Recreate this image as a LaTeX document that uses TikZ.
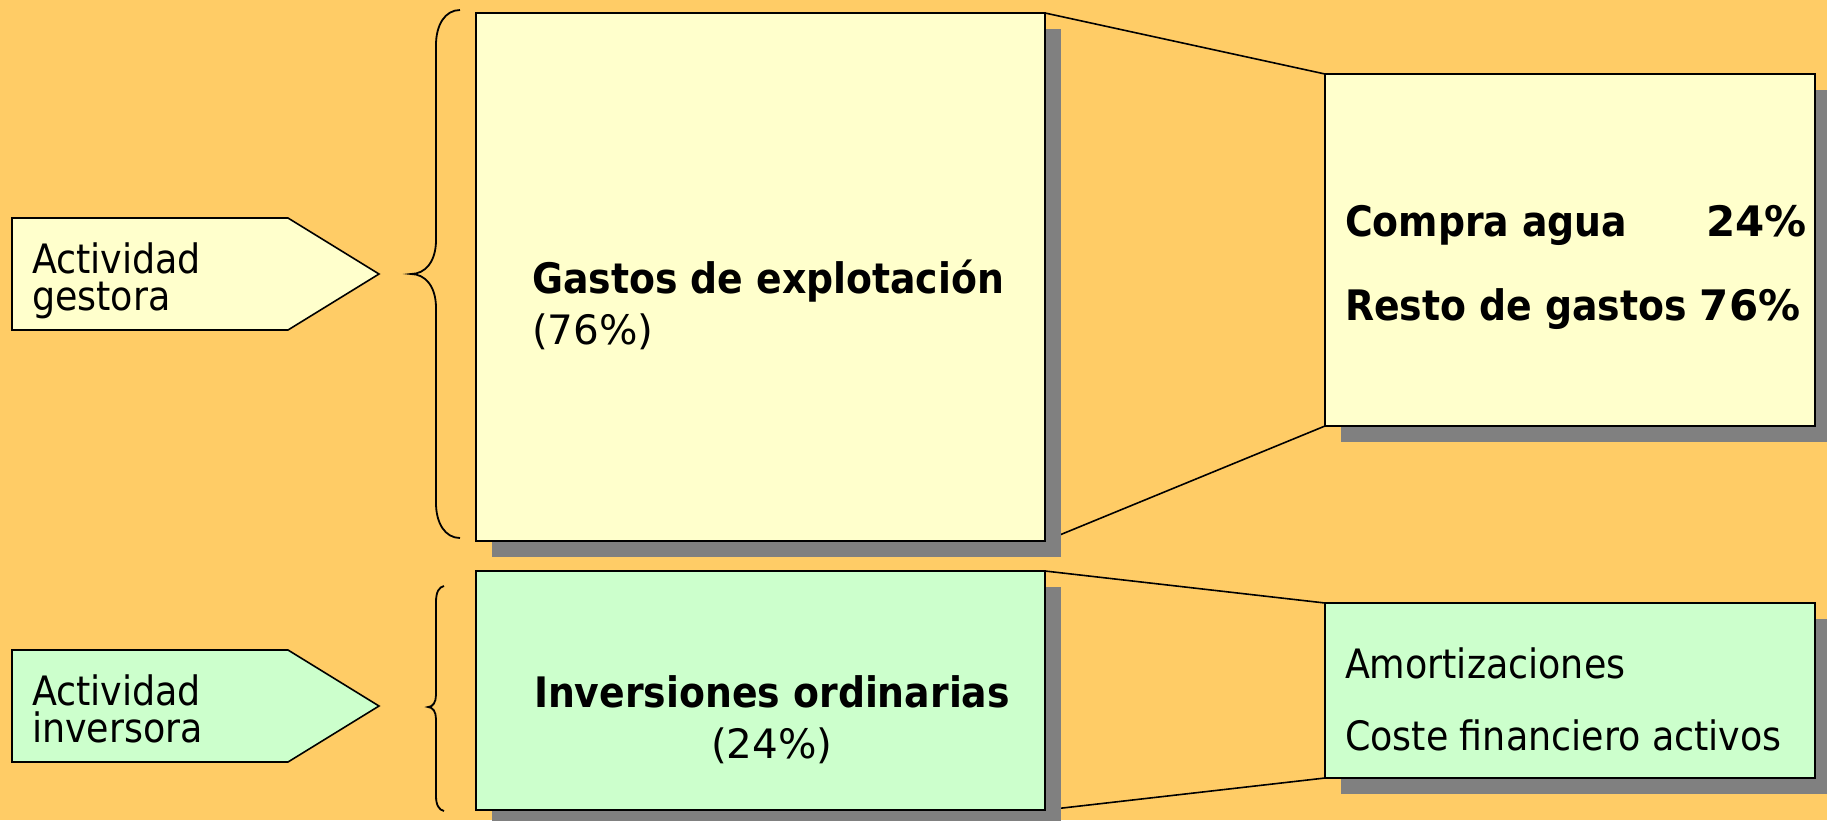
\documentclass[tikz,border=0pt]{standalone}
\usepackage{fontspec}
\setmainfont{DejaVu Sans Condensed}
\newfontfamily\numfont{DejaVu Sans}
\usetikzlibrary{shadows}
\definecolor{bgorange}{HTML}{FFCC66}
\definecolor{pyellow}{HTML}{FFFFCC}
\definecolor{pgreen}{HTML}{CCFFCC}
\definecolor{shgray}{HTML}{808080}
\pgfdeclarelayer{back}
\pgfdeclarelayer{bg}
\pgfsetlayers{back,bg,main}
\tikzset{
  boxbase/.style={draw=black, line width=1.6pt, inner sep=0pt, outer sep=0pt, anchor=north west,
    drop shadow={shadow xshift=16pt, shadow yshift=-16pt, fill=shgray, opacity=1}},
  ybox/.style={boxbase, fill=pyellow},
  gbox/.style={boxbase, fill=pgreen},
  tag/.style={draw=black, line width=1.6pt, line join=miter},
  brace/.style={draw=black, line width=1.8pt},
  link/.style={draw=black, line width=1.6pt},
  txt/.style={inner sep=0pt, outer sep=0pt, font=\fontsize{40.5}{44}\selectfont},
  btxt/.style={inner sep=0pt, outer sep=0pt, font=\fontsize{42}{46}\selectfont\bfseries},
}
\begin{document}
\begin{tikzpicture}[x=1pt,y=-1pt]
\begin{pgfonlayer}{back}
\fill[bgorange] (0,0) rectangle (1827,820);
\end{pgfonlayer}
\useasboundingbox (0,0) rectangle (1827,820);

% left tags
\draw[tag, fill=pyellow] (12,218) -- (288,218) -- (379,274) -- (288,330) -- (12,330) -- cycle;
\draw[tag, fill=pgreen] (12,650) -- (288,650) -- (379,706) -- (288,762) -- (12,762) -- cycle;
\node[txt, anchor=base west] (tg1) at (32,273) {Actividad};
\node[txt, anchor=base west] (tg2) at (32,310) {gestora};
\node[txt, anchor=base west] (ti1) at (32,705) {Actividad};
\node[txt, anchor=base west] (ti2) at (32,742) {inversora};

% braces
\draw[brace] (460,10) .. controls (445,10) and (436,25) .. (436,45) -- (436,240)
  .. controls (436,262) and (425,274) .. (411,274)
  .. controls (425,274) and (436,286) .. (436,308) -- (436,503)
  .. controls (436,523) and (445,538) .. (460,538);
\draw[brace] (444,586) .. controls (439,587) and (436,592) .. (436,602) -- (436,695)
  .. controls (436,702) and (433,707) .. (428,707)
  .. controls (433,707) and (436,712) .. (436,719) -- (436,796)
  .. controls (436,805) and (439,810) .. (444,811);

% boxes
\node[ybox, minimum width=569pt, minimum height=528pt] (gastos) at (476,13) {};
\node[gbox, minimum width=569pt, minimum height=239pt] (inver) at (476,571) {};
\node[ybox, minimum width=490pt, minimum height=352pt] (compra) at (1325,74) {};
\node[gbox, minimum width=490pt, minimum height=175pt] (amort) at (1325,603) {};

% connectors (behind boxes)
\begin{pgfonlayer}{bg}
\draw[link] (gastos.north east) -- (compra.north west);
\draw[link] (gastos.south east) -- (compra.south west);
\draw[link] (inver.north east) -- (amort.north west);
\draw[link] (inver.south east) -- (amort.south west);
\end{pgfonlayer}

% texts
\node[btxt, anchor=base west] (g1) at (532,293) {Gastos de explotación};
\node[txt, anchor=base west] (g2) at (532,344) {\numfont (76\%)};
\node[btxt, anchor=base] (i1) at (772,707) {Inversiones ordinarias};
\node[txt, anchor=base] (i2) at (772,758) {\numfont (24\%)};
\node[btxt, anchor=base west] (c1) at (1345,236) {Compra agua};
\node[btxt, anchor=base east] (c2) at (1807,236) {\numfont 24\%};
\node[btxt, anchor=base west] (c3) at (1345,320) {Resto de gastos {\numfont 76\%}};
\node[txt, anchor=base west] (a1) at (1345,678) {Amortizaciones};
\node[txt, anchor=base west] (a2) at (1345,750) {Coste financiero activos};
\end{tikzpicture}
\end{document}
